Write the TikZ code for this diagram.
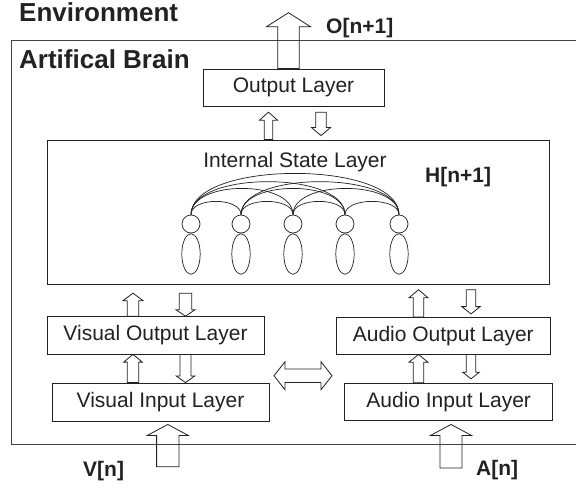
\documentclass[tikz,border=0pt]{standalone}
\usepackage{fontspec}
\setmainfont{Liberation Sans}
\usetikzlibrary{calc,shapes.geometric}
\definecolor{ink}{HTML}{222222}
\newcommand{\blockarr}[5]{%
  \coordinate (ba) at (#1);
  \coordinate (bb) at (#2);
  \coordinate (bh) at ($(bb)!#5!(ba)$);
  \draw[barr] ($(ba)!#3!90:(bb)$) -- ($(bh)!#3!90:(bb)$) -- ($(bh)!#4!90:(bb)$) -- (bb)
    -- ($(bh)!#4!-90:(bb)$) -- ($(bh)!#3!-90:(bb)$) -- ($(ba)!#3!-90:(bb)$) -- cycle;}
\begin{document}
\begin{tikzpicture}[x=1pt,y=-1pt,
  every node/.style={text=ink},
  layer/.style={draw=ink, line width=0.9pt, inner sep=0pt, font=\fontsize{21}{25}\selectfont},
  barr/.style={draw=ink, line width=0.8pt, line join=miter},
  lbl/.style={inner sep=0pt, font=\fontsize{21}{25}\selectfont\bfseries},
  biglbl/.style={inner sep=0pt, font=\fontsize{26}{30}\selectfont\bfseries},
  neuron/.style={draw=ink, line width=0.7pt, circle, minimum size=18pt, inner sep=0pt},
  body/.style={draw=ink, line width=0.7pt, ellipse, minimum width=18.4pt, minimum height=40.6pt, inner sep=0pt},
  syn/.style={draw=ink, line width=0.7pt}]
\clip (0,0) rectangle (576,483);
\fill[white] (0,0) rectangle (576,483);
% brain frame
\draw[draw=ink!85, line width=1pt] (590,40.7) -- (11.7,40.7) -- (11.7,444.3) -- (590,444.3);
% labels
\node[biglbl, anchor=base west] (env) at (19,21) {Environment};
\node[biglbl, anchor=base west] (ab) at (19,68) {Artifical Brain};
\node[lbl, anchor=base west] (on) at (326,33) {O[n+1]};
\node[lbl, anchor=west] (hn) at (425,177) {H[n+1]};
\node[lbl, anchor=base west] (vn) at (83,476) {V[n]};
\node[lbl, anchor=base west] (an) at (476,475) {A[n]};
% boxes
\node[layer, minimum width=181pt, minimum height=37pt] (ol) at (293.5,87.5) {Output Layer};
\node[layer, minimum width=501.6pt, minimum height=144pt] (isl) at (298.5,212) {};
\node[inner sep=0pt, font=\fontsize{21}{25}\selectfont] (ist) at (295,162) {Internal State Layer};
\node[layer, minimum width=217pt, minimum height=37.3pt] (vo) at (155.5,335.3) {Visual Output Layer};
\node[layer, minimum width=217pt, minimum height=38pt] (vi) at (160.5,402) {Visual Input Layer};
\node[layer, minimum width=213.3pt, minimum height=36.7pt] (ao) at (443.3,335.7) {Audio Output Layer};
\node[layer, minimum width=208pt, minimum height=37.4pt] (ai) at (448.7,402) {Audio Input Layer};
% neurons
\foreach \i/\x in {1/191,2/241,3/293,4/345,5/399}{
  \node[neuron] (n\i) at (\x,224) {};
  \node[body, anchor=north] (e\i) at (n\i.south) {};
}
\foreach \i/\j/\k in {1/2/17.7,2/3/17.7,3/4/17.7,4/5/17.7,
                      1/3/35,2/4/35,3/5/35,
                      1/4/44,2/5/44,
                      1/5/55}{
  \draw[syn] (n\i.north) .. controls +(0,-\k) and +(0,-\k) .. (n\j.north);
}
% arrow x positions
\coordinate (xo) at (288.5,0);
\coordinate (xu1) at (268.5,0);
\coordinate (xd1) at (321,0);
\coordinate (xvu) at (133,0);
\coordinate (xvd) at (185.5,0);
\coordinate (xau) at (418.5,0);
\coordinate (xad) at (471,0);
\coordinate (xv) at (167.8,0);
\coordinate (xa) at (451,0);
\coordinate (otip) at (288.5,12.7);
\coordinate (vtail) at (167.8,466.7);
\coordinate (atail) at (451,468);
% block arrows
\blockarr{xo |- ol.north}{otip}{10.7pt}{22pt}{14pt}
\blockarr{xu1 |- isl.north}{$(xu1 |- ol.south)+(0,5.7)$}{4.3pt}{9pt}{8pt}
\blockarr{$(xd1 |- ol.south)+(0,5.7)$}{$(xd1 |- isl.north)+(0,-4)$}{5.3pt}{9.5pt}{8pt}
\blockarr{xvu |- vo.north}{$(xvu |- isl.south)+(0,8.7)$}{5.8pt}{10pt}{7.5pt}
\blockarr{$(xvd |- isl.south)+(0,8.7)$}{xvd |- vo.north}{6.2pt}{9.5pt}{6.5pt}
\blockarr{xvu |- vi.north}{xvu |- vo.south}{5.8pt}{9.3pt}{7.7pt}
\blockarr{xvd |- vo.south}{xvd |- vi.north}{5.5pt}{9.2pt}{6.5pt}
\blockarr{xau |- ao.north}{$(xau |- isl.south)+(0,5.3)$}{5.3pt}{9.5pt}{8pt}
\blockarr{$(xad |- isl.south)+(0,5.3)$}{$(xad |- ao.north)+(0,-3)$}{4.7pt}{9.2pt}{7.3pt}
\blockarr{xau |- ai.north}{xau |- ao.south}{5.3pt}{9.5pt}{7.7pt}
\blockarr{xad |- ao.south}{$(xad |- ai.north)+(0,-4)$}{4.7pt}{8.3pt}{6.6pt}
\blockarr{vtail}{$(xv |- vi.south)+(0,3)$}{11.2pt}{20.5pt}{11pt}
\blockarr{atail}{$(xa |- ai.south)+(0,3.3)$}{11pt}{20.5pt}{11pt}
% double arrow
\coordinate (dl) at (274,375.7);
\coordinate (dr) at (332,375.7);
\coordinate (hbl) at ($(dl)!11pt!(dr)$);
\coordinate (hbr) at ($(dr)!11pt!(dl)$);
\draw[barr] (dl) -- ($(hbl)!14pt!90:(dr)$) -- ($(hbl)!6.7pt!90:(dr)$) -- ($(hbr)!6.7pt!-90:(dl)$)
  -- ($(hbr)!14pt!-90:(dl)$) -- (dr) -- ($(hbr)!14pt!90:(dl)$) -- ($(hbr)!6.7pt!90:(dl)$)
  -- ($(hbl)!6.7pt!-90:(dr)$) -- ($(hbl)!14pt!-90:(dr)$) -- cycle;
\end{tikzpicture}
\end{document}
